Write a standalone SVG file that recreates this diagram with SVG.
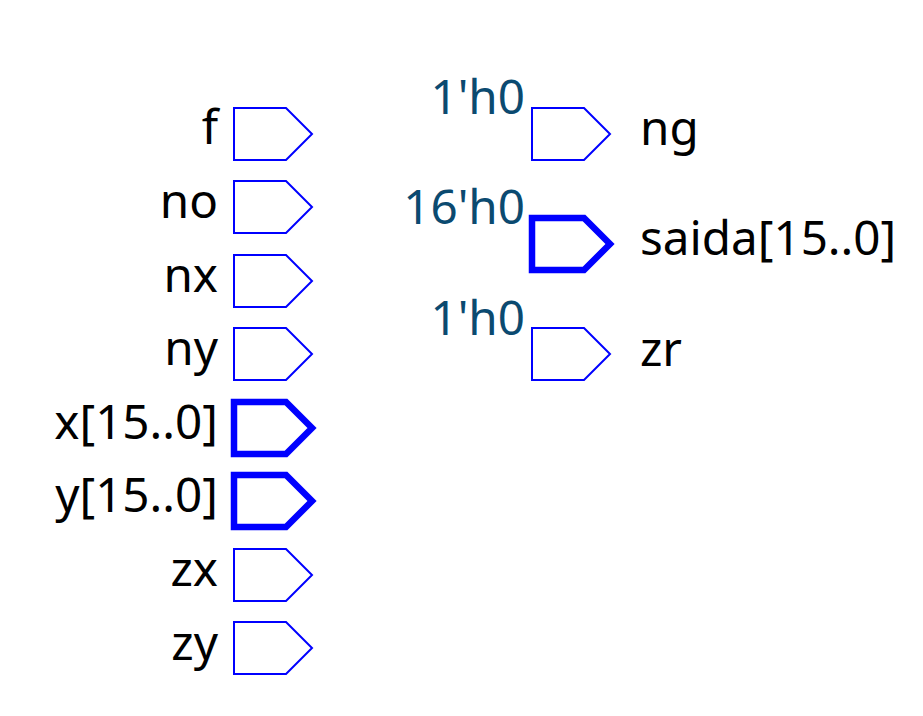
<svg xmlns="http://www.w3.org/2000/svg" width="923" height="716" viewBox="0 0 923 716">
<style>
text{font-family:"Noto Sans","Open Sans",sans-serif;font-size:47.6px;fill:#000}
.r{text-anchor:end}
.v{fill:#0b4a70}
.p{fill:#fff;stroke:#0000ff;stroke-width:2}
.b{fill:#fff;stroke:#0000ff;stroke-width:6.5}
</style>
<defs>
<path id="pin" d="M0 0H52L78 26L52 52H0Z"/>
</defs>
<g id="connectors"/>
<g id="f"><use href="#pin" class="p" x="234" y="108"/><text class="r" x="218" y="144">f</text></g>
<g id="no"><use href="#pin" class="p" x="234" y="181"/><text class="r" x="218" y="218">no</text></g>
<g id="nx"><use href="#pin" class="p" x="234" y="255"/><text class="r" x="218" y="292">nx</text></g>
<g id="ny"><use href="#pin" class="p" x="234" y="328"/><text class="r" x="218" y="365">ny</text></g>
<g id="x"><use href="#pin" class="b" x="234" y="402"/><text class="r" x="218" y="439">x[15..0]</text></g>
<g id="y"><use href="#pin" class="b" x="234" y="475"/><text class="r" x="218" y="512">y[15..0]</text></g>
<g id="zx"><use href="#pin" class="p" x="234" y="549"/><text class="r" x="218" y="586">zx</text></g>
<g id="zy"><use href="#pin" class="p" x="234" y="622"/><text class="r" x="218" y="660">zy</text></g>
<g id="ng"><use href="#pin" class="p" x="532" y="108"/><text class="r v" x="525" y="114">1'h0</text><text x="640" y="145">ng</text></g>
<g id="saida"><use href="#pin" class="b" x="532" y="218"/><text class="r v" x="525" y="224">16'h0</text><text x="640" y="255">saida[15..0]</text></g>
<g id="zr"><use href="#pin" class="p" x="532" y="328"/><text class="r v" x="525" y="335">1'h0</text><text x="640" y="366">zr</text></g>
</svg>
